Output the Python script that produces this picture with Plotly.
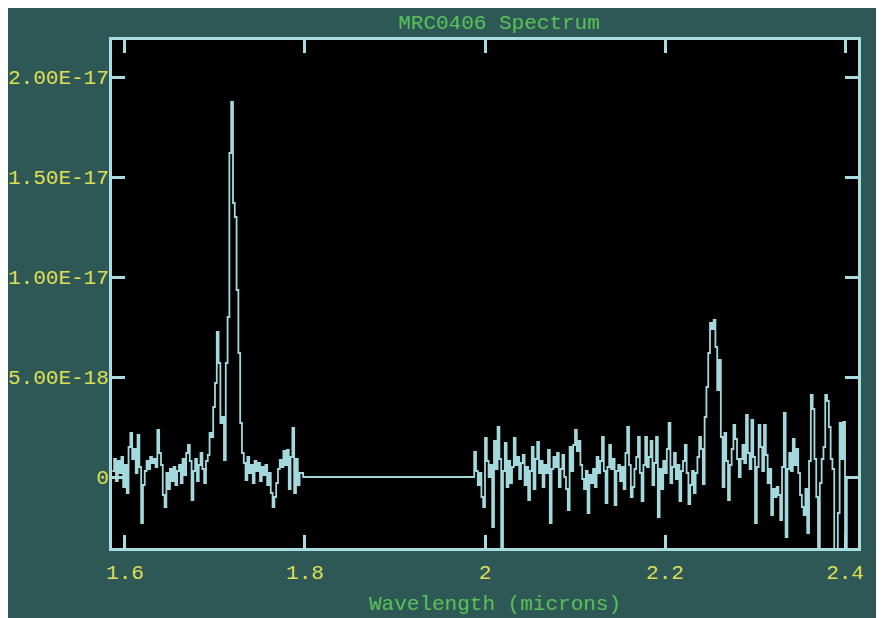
import numpy as np
import plotly.graph_objects as go

# ---- data (flux in units of 1e-18) ----
seg1_start = 1.586   # microns
seg1_step = 0.002
seg1_flux = [
    0.3, 0.9, -0.2, 0.8, 0.2, 1.0, -0.5, 0.6, -0.8, 1.5,
    2.2, 0.9, 1.4, 0.2, 2.1, 0.5, -2.3, -0.4, 0.3, 0.8,
    0.4, 1.0, 0.7, 0.9, 0.5, 2.35, 1.2, 0.6, -0.9, -1.5,
    0.2, -0.6, 0.4, -0.2, 0.5, -0.4, 0.3, 0.6, -0.3, 0.9,
    0.1, 1.2, 1.6, 0.8, -1.15, 0.3, 0.9, -0.2, 0.6, 1.2,
    0.4, -0.3, 0.8, 1.1, 2.2, 2.0, 3.5, 4.7, 7.25, 5.7,
    2.7, 3.0, 0.85, 5.7, 8.0, 16.2, 18.75, 13.7, 13.0, 9.35,
    6.2, 2.7, 1.2, 0.7, -0.15, 1.0, 0.2, 0.6, -0.3, 0.8,
    0.3, 0.7, -0.2, 0.5, 0.1, 0.6, -0.4, 0.2, -0.8, -1.5,
    -1.0, -0.3, 0.4, 0.85, 0.5, 1.3, 0.6, 1.35, -0.6, 1.0,
    2.45, -0.8, 0.9, -0.4, 0.2,
]

gap_wl = [1.798, 1.984]
gap_flux = [0.0, 0.0]

seg2_start = 1.986
seg2_step = 0.002
seg2_flux = [
    0.0, 1.25, 0.3, -0.4, 0.2, -1.0, -1.5, 1.95, 0.8, 0.0,
    0.6, -2.5, 1.8, 0.4, 2.5, 0.9, -4.5, 0.3, 1.7, -0.5,
    0.8, -0.3, 0.5, 1.95, 0.6, 1.0, -0.1, 0.7, 1.1, -0.4,
    0.5, -1.15, 0.3, 1.5, -0.6, 0.9, 1.75, 0.2, 0.8, -0.5,
    0.6, 0.2, 1.35, -2.3, 0.4, 1.0, 0.5, 1.2, -0.5, 0.4,
    1.1, 0.0, -0.6, -1.65, 1.5, 0.3, 1.6, 2.35, 1.3, 1.8,
    0.6, -0.1, -0.6, 0.3, -1.8, 0.1, -0.3, 0.4, -0.5, 1.0,
    0.2, 0.8, 2.0, 0.3, -1.3, 0.5, 1.6, 0.4, 0.9, -1.4,
    0.3, 0.6, -0.2, 0.5, -0.6, 1.2, 2.5, 0.6, -1.0, -0.5,
    0.4, 1.0, 2.0, 0.2, -1.2, 0.6, 2.0, 0.5, 1.0, 1.8,
    -0.4, 0.7, 2.0, -2.0, 0.4, -0.6, 0.8, 0.2, 1.4, 2.7,
    -0.3, 0.5, 1.2, -0.1, 0.6, -1.2, 0.3, 0.8, 1.6, 0.2,
    -1.35, -0.4, 0.3, -0.8, 0.2, 1.0, 2.0, 1.4, -0.35, 3.0,
    4.5, 6.2, 7.7, 7.4, 7.85, 6.5, 4.35, 5.85, 2.0, -0.5,
    2.2, 0.8, -1.15, 0.6, 1.4, 2.6, 1.9, 0.9, 0.0, 0.9,
    1.6, 0.7, 3.1, 1.2, 0.4, 2.85, 1.0, -2.3, 0.5, 2.6,
    1.5, 0.3, 2.6, 1.1, -0.3, 0.4, -1.9, -0.6, -1.0, -0.5,
    -0.9, -2.15, 0.5, 3.2, -3.0, 0.4, 1.2, 0.3, 1.9, 0.6,
    1.4, 0.2, -0.9, -1.5, -1.9, -0.6, -2.8, 0.8, 4.1, 3.4,
    0.9, -1.0, -4.5, -0.3, 0.9, 1.5, 4.1, 3.8, 2.5, 0.9,
    0.4, -4.5, -4.5, -1.8, 2.7, 0.9, 2.75, -4.5, 0.0,
]

x_tick_vals = [1.6, 1.8, 2.0, 2.2, 2.4]
x_tick_text = ["1.6", "1.8", "2", "2.2", "2.4"]
y_tick_vals = [0, 5e-18, 1e-17, 1.5e-17, 2e-17]
y_tick_text = ["0", "5.00E-18", "1.00E-17", "1.50E-17", "2.00E-17"]

# ---- build arrays ----
wl1 = seg1_start + seg1_step * np.arange(len(seg1_flux))
wl2 = seg2_start + seg2_step * np.arange(len(seg2_flux))
wl = np.concatenate([wl1, gap_wl, wl2])
flux = np.concatenate([seg1_flux, gap_flux, seg2_flux]) * 1e-18

BG = "#2e5856"
AX = "#a9dce0"
LINE = "#a3d8dc"
YEL = "#dede55"
GRN = "#58c058"
FONT = "Liberation Mono, DejaVu Sans Mono, monospace"

# page has an 8px body margin; figure sized to fill the rest of the window
W, H = 876, 610
ML, MR, MT, MB = 104, 26, 32, 70
PW, PH = W - ML - MR, H - MT - MB

fig = go.Figure()
fig.add_trace(go.Scatter(
    x=wl, y=flux, mode="lines",
    line=dict(color=LINE, width=1.8, shape="hv"),
    hoverinfo="skip", showlegend=False,
))

axis_common = dict(
    showline=True, linecolor=AX, linewidth=3, mirror="ticks",
    ticks="inside", ticklen=13, tickwidth=3, tickcolor=AX,
    showgrid=False, zeroline=False, automargin=False,
    tickfont=dict(family=FONT, size=21, color=YEL),
)

fig.update_layout(
    width=W, height=H,
    margin=dict(l=ML, r=MR, t=MT, b=MB),
    paper_bgcolor=BG, plot_bgcolor="black",
    title=dict(text="MRC0406 Spectrum", x=491 / W, xanchor="center",
               y=1 - 14 / H, yanchor="middle",
               font=dict(family=FONT, size=21, color=GRN)),
    xaxis=dict(range=[1.5856, 2.4144], tickvals=x_tick_vals, ticktext=x_tick_text,
               ticklabelstandoff=3, **axis_common),
    yaxis=dict(range=[-3.55e-18, 2.185e-17], tickvals=y_tick_vals, ticktext=y_tick_text,
               ticklabelstandoff=-4, **axis_common),
    annotations=[dict(text="Wavelength (microns)", xref="paper", yref="paper",
                      x=(495 - 112) / PW, y=-56 / PH, xanchor="center", yanchor="middle",
                      showarrow=False, font=dict(family=FONT, size=21, color=GRN))],
)

fig.write_html("out.html")
